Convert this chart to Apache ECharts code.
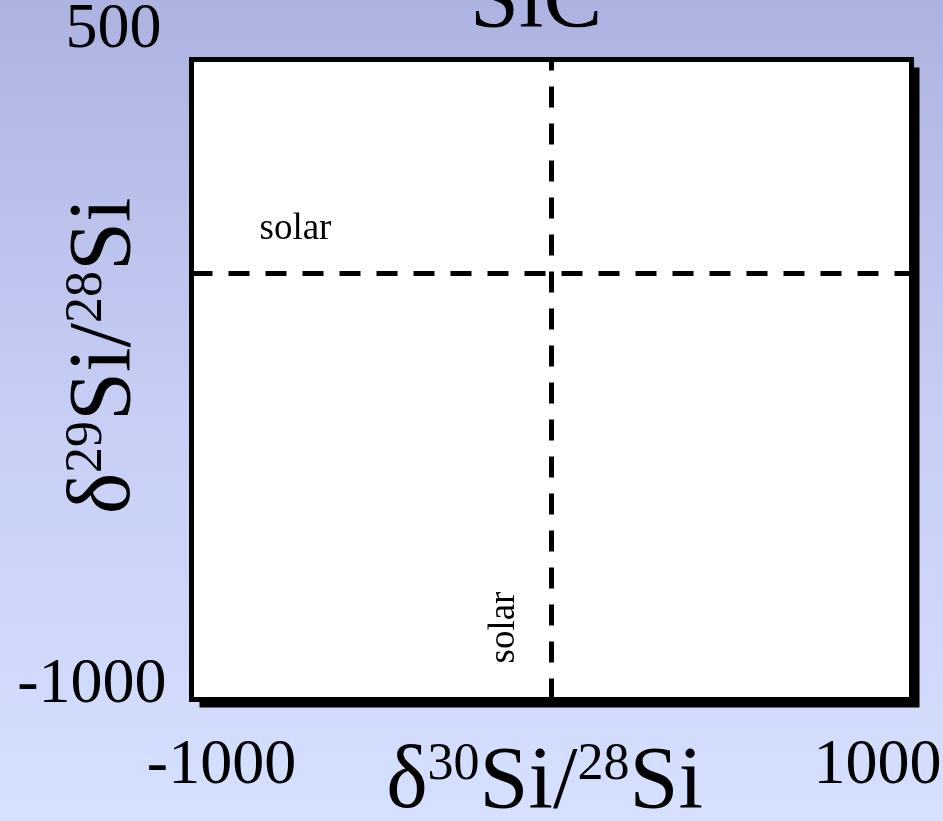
<!DOCTYPE html>
<html>
<head>
<meta charset="utf-8">
<style>
  html, body { margin: 0; padding: 0; }
  #chart { width: 943px; height: 821px; }
</style>
<script src="https://cdn.jsdelivr.net/npm/echarts@6/dist/echarts.min.js"></script>
</head>
<body>
<div id="chart"></div>
<script>
// Axis ranges (delta notation, per mil)
const xRange = [-1000, 1000];
const yRange = [-1000, 500];
// Tick labels shown on each axis
const xTickLabels = [-1000, 1000];
const yTickLabels = [-1000, 500];
// Solar reference composition
const solarX = 0;
const solarY = 0;
const solarText = 'solar';

const SERIF = '"Liberation Serif", "Times New Roman", serif';

const chart = echarts.init(document.getElementById('chart'), null, { renderer: 'canvas' });

const nameRich = {
  d: { fontSize: 88, fontFamily: SERIF, color: '#000' },
  s: { fontSize: 52, fontFamily: SERIF, color: '#000', verticalAlign: 'top' }
};

// Frame line used on all four sides of the plot
const frameLine = { show: true, onZero: false, lineStyle: { color: '#000', width: 5, cap: 'square' } };
const hidden = { show: false };

chart.setOption({
  animation: false,
  backgroundColor: {
    type: 'linear', x: 0, y: 0, x2: 0, y2: 1,
    colorStops: [
      { offset: 0, color: '#adb3e1' },
      { offset: 0.5, color: '#c6cef5' },
      { offset: 1, color: '#d6e0ff' }
    ]
  },
  title: {
    text: 'SiC',
    left: 470,
    top: -41,
    padding: 0,
    textStyle: { fontSize: 88, fontWeight: 'normal', fontFamily: SERIF, color: '#000' }
  },
  grid: {
    left: 191.5, right: 31.5, top: 59.5, bottom: 121.5,
    containLabel: false,
    outerBoundsMode: 'none',
    show: true,
    backgroundColor: '#fff',
    borderWidth: 0,
    shadowColor: '#000',
    shadowBlur: 0,
    shadowOffsetX: 8,
    shadowOffsetY: 8
  },
  xAxis: [{
    type: 'value',
    position: 'bottom',
    min: xRange[0], max: xRange[1], interval: 1000,
    axisLine: frameLine,
    axisTick: hidden,
    splitLine: hidden,
    axisLabel: {
      margin: 35,
      fontSize: 64, fontFamily: SERIF, color: '#000',
      formatter: v => {
        if (v === xTickLabels[0]) return '{mn|' + v + '}';
        if (v === xTickLabels[1]) return '{mx|' + v + '}';
        return '';
      },
      rich: {
        mn: { fontSize: 64, fontFamily: SERIF, color: '#000', padding: [0, 0, 0, 60] },
        mx: { fontSize: 64, fontFamily: SERIF, color: '#000', padding: [0, 68, 0, 0] }
      }
    },
    name: '{d|δ}{s|30}{d|Si/}{s|28}{d|Si}',
    nameLocation: 'middle',
    nameGap: 40,
    nameMoveOverlap: false,
    nameTextStyle: { padding: [0, 14, 0, 0], rich: nameRich }
  }, {
    type: 'value',
    position: 'top',
    min: xRange[0], max: xRange[1], interval: 1000,
    axisLine: frameLine,
    axisTick: hidden,
    splitLine: hidden,
    axisLabel: hidden
  }],
  yAxis: [{
    type: 'value',
    position: 'left',
    min: yRange[0], max: yRange[1], interval: 500,
    axisLine: frameLine,
    axisTick: hidden,
    splitLine: hidden,
    axisLabel: {
      margin: 25,
      fontSize: 64, fontFamily: SERIF, color: '#000',
      formatter: v => {
        if (v === yTickLabels[0]) return '{mn|' + v + '}';
        if (v === yTickLabels[1]) return '{mx|' + v + '}';
        return '';
      },
      rich: {
        mn: { fontSize: 64, fontFamily: SERIF, color: '#000', padding: [0, 0, 28, 0] },
        mx: { fontSize: 64, fontFamily: SERIF, color: '#000', padding: [0, 5, 58, 0] }
      }
    },
    name: '{d|δ}{s|29}{d|Si/}{s|28}{d|Si}',
    nameLocation: 'middle',
    nameRotate: 90,
    nameGap: 42,
    nameMoveOverlap: false,
    nameTextStyle: { padding: [0, 0, 0, 47], rich: nameRich }
  }, {
    type: 'value',
    position: 'right',
    min: yRange[0], max: yRange[1], interval: 500,
    axisLine: frameLine,
    axisTick: hidden,
    splitLine: hidden,
    axisLabel: hidden
  }],
  series: [{
    type: 'line',
    data: [],
    silent: true,
    markLine: {
      silent: true,
      symbol: 'none',
      lineStyle: { color: '#000', width: 5, type: [21, 16] },
      label: {
        show: true,
        formatter: solarText,
        fontSize: 37, fontFamily: SERIF, color: '#000'
      },
      data: [
        { yAxis: solarY, label: { position: 'insideStartTop', distance: [68, 25] } },
        { xAxis: solarX, label: { position: 'insideStartTop', distance: [36, 29] } }
      ]
    }
  }]
});
</script>
</body>
</html>
